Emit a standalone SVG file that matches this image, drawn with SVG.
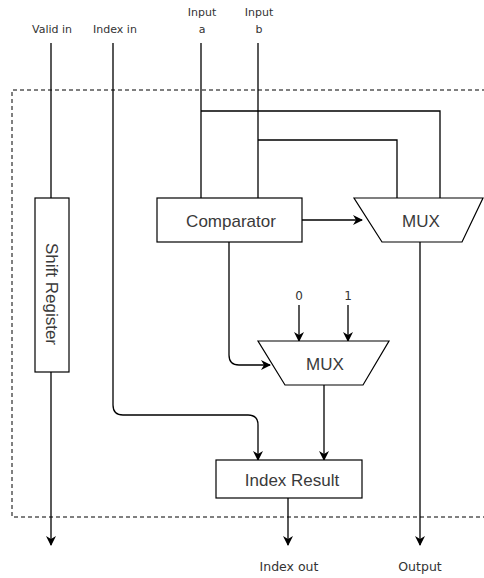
<svg xmlns="http://www.w3.org/2000/svg" width="484" height="578" viewBox="0 0 484 578">
  <style>
    .box { fill: #ffffff; stroke: #000000; stroke-width: 1.2; }
    .wire { fill: none; stroke: #000000; stroke-width: 1.3; }
    .frame { fill: none; stroke: #000000; stroke-width: 1; stroke-dasharray: 4 3; }
    .lbl { font-family: "Liberation Sans", Arial, sans-serif; font-size: 17px; fill: #3a3a3a; text-anchor: middle; }
    .io { font-family: "DejaVu Sans", Verdana, sans-serif; font-size: 11px; fill: #333333; text-anchor: middle; }
    .sel { font-family: "DejaVu Sans", Verdana, sans-serif; font-size: 12px; fill: #333333; text-anchor: middle; }
    .out { font-family: "DejaVu Sans", Verdana, sans-serif; font-size: 12.5px; fill: #333333; text-anchor: middle; }
  </style>
  <defs>
    <marker id="arrow" viewBox="0 0 10 10" refX="9" refY="5" markerWidth="10" markerHeight="10" markerUnits="userSpaceOnUse" orient="auto">
      <path d="M0,0 L10,5 L0,10 L3,5 Z" fill="#000000"/>
    </marker>
  </defs>
  <rect width="484" height="578" fill="#ffffff"/>

  <!-- module boundary -->
  <path class="frame" d="M486,90 H12 V517 H486"/>

  <!-- port labels -->
  <g id="labels">
    <text class="io" x="52" y="33">Valid in</text>
    <text class="io" x="115" y="33">Index in</text>
    <text class="io" x="202" y="16">Input</text>
    <text class="io" x="202" y="33">a</text>
    <text class="io" x="259" y="16">Input</text>
    <text class="io" x="259" y="33">b</text>
    <text class="sel" x="299" y="300">0</text>
    <text class="sel" x="348" y="300">1</text>
    <text class="out" x="289" y="571">Index out</text>
    <text class="out" x="420" y="571">Output</text>
  </g>

  <!-- connectors -->
  <g id="connectors">
    <path class="wire" d="M51,43 V198"/>
    <path class="wire" d="M51,372 V545" marker-end="url(#arrow)"/>
    <path class="wire" d="M201,43 V198"/>
    <path class="wire" d="M258,43 V198"/>
    <path class="wire" d="M201,111 H440 V198"/>
    <path class="wire" d="M258,140 H397 V198"/>
    <path class="wire" d="M302,220 H362" marker-end="url(#arrow)"/>
    <path class="wire" d="M229,242 V355 Q229,365 239,365 H270" marker-end="url(#arrow)"/>
    <path class="wire" d="M299,305 V341" marker-end="url(#arrow)"/>
    <path class="wire" d="M348,305 V341" marker-end="url(#arrow)"/>
    <path class="wire" d="M113,43 V405 Q113,415 123,415 H248 Q258,415 258,425 V460" marker-end="url(#arrow)"/>
    <path class="wire" d="M324,385 V460" marker-end="url(#arrow)"/>
    <path class="wire" d="M288,498 V545" marker-end="url(#arrow)"/>
    <path class="wire" d="M420,242 V545" marker-end="url(#arrow)"/>
  </g>

  <!-- nodes -->
  <g id="shift-register">
    <rect class="box" x="35" y="198" width="34" height="174"/>
    <text class="lbl" transform="translate(46,294) rotate(90)">Shift Register</text>
  </g>
  <g id="comparator">
    <rect class="box" x="157" y="198" width="145" height="44"/>
    <text class="lbl" x="231" y="227">Comparator</text>
  </g>
  <g id="mux-output">
    <polygon class="box" points="354,198 483,198 462,242 382,242"/>
    <text class="lbl" x="421" y="227">MUX</text>
  </g>
  <g id="mux-index">
    <polygon class="box" points="258,341 389,341 363,385 285,385"/>
    <text class="lbl" x="325" y="370">MUX</text>
  </g>
  <g id="index-result">
    <rect class="box" x="216" y="460" width="146" height="38"/>
    <text class="lbl" x="292" y="486">Index Result</text>
  </g>
</svg>
